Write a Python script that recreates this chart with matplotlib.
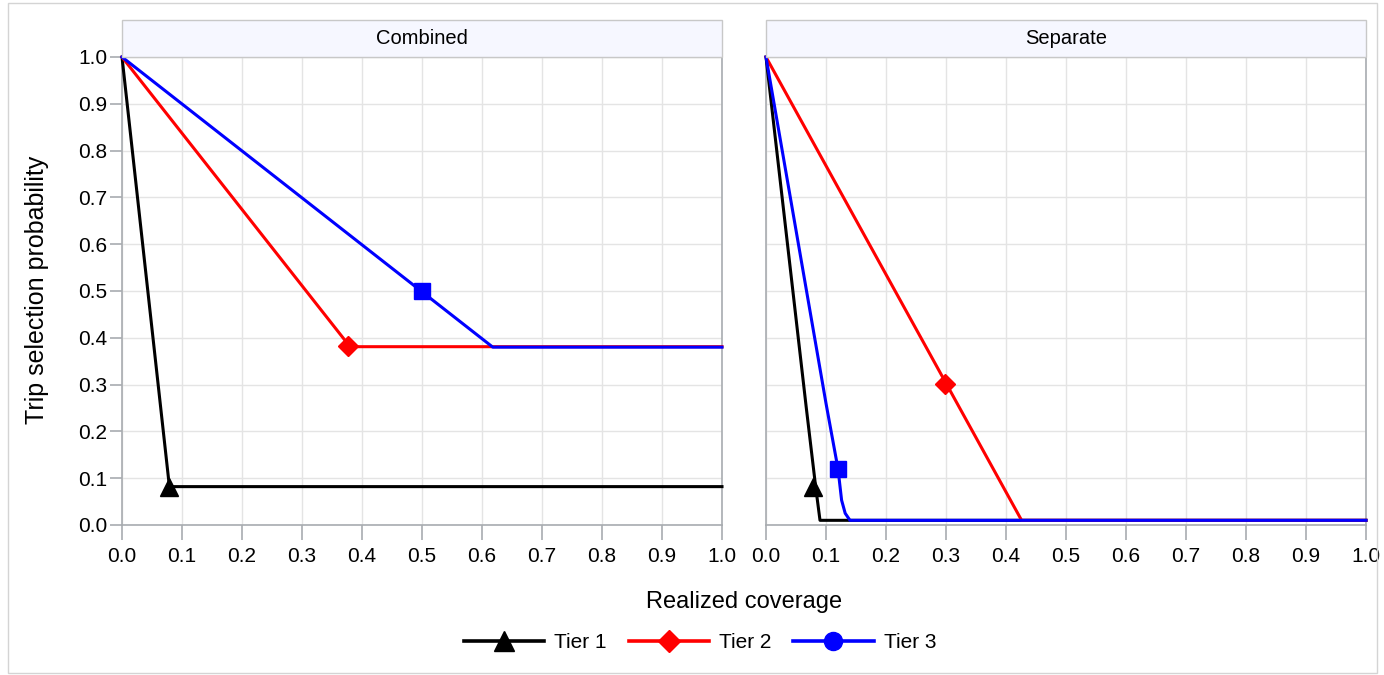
import matplotlib
matplotlib.use('Agg')
import matplotlib.pyplot as plt
from matplotlib.lines import Line2D
from matplotlib.patches import Rectangle
import numpy as np

plt.rcParams['font.family'] = ['Liberation Sans', 'DejaVu Sans']

# Combined panel curves (realized coverage, selection probability)
comb_t1_x = [0.0, 0.079, 1.0]
comb_t1_y = [1.0, 0.082, 0.082]
comb_t2_x = [0.0, 0.38, 1.0]
comb_t2_y = [1.0, 0.381, 0.381]
comb_t3_x = [0.0, 0.618, 1.0]
comb_t3_y = [1.0, 0.38, 0.38]
# marker points
comb_mk_x = [0.078, 0.377, 0.50]
comb_mk_y = [0.081, 0.382, 0.50]

# Separate panel curves
sep_t1_x = [0.0, 0.067, 0.083, 0.09, 1.0]
sep_t1_y = [1.0, 0.252, 0.079, 0.01, 0.01]
sep_t2_x = [0.0, 0.30, 0.426, 1.0]
sep_t2_y = [1.0, 0.303, 0.01, 0.01]
sep_t3_x = [0.0, 0.10, 0.12, 0.126, 0.132, 0.14, 1.0]
sep_t3_y = [1.0, 0.26, 0.12, 0.053, 0.025, 0.01, 0.01]
sep_mk_x = [0.078, 0.298, 0.12]
sep_mk_y = [0.081, 0.301, 0.12]

tiers = ['Tier 1', 'Tier 2', 'Tier 3']
colors = ['black', '#ff0000', '#0000ff']
markers = ['^', 'D', 's']
msizes = [13, 10, 11]

W, H = 1384, 675
fig = plt.figure(figsize=(W / 100, H / 100), dpi=100)

# outer frame
fig.patches.append(Rectangle((8 / W, 1 - 673 / H), 1369 / W, 670 / H,
                             transform=fig.transFigure, fill=False,
                             edgecolor='#d4d4d4', linewidth=1.0))

ax1 = fig.add_axes([122 / W, 1 - 525 / H, 600 / W, 468 / H])
ax2 = fig.add_axes([766 / W, 1 - 525 / H, 600 / W, 468 / H])

panels = [
    (ax1, 'Combined', [(comb_t1_x, comb_t1_y), (comb_t2_x, comb_t2_y), (comb_t3_x, comb_t3_y)], comb_mk_x, comb_mk_y),
    (ax2, 'Separate', [(sep_t1_x, sep_t1_y), (sep_t2_x, sep_t2_y), (sep_t3_x, sep_t3_y)], sep_mk_x, sep_mk_y),
]

for ax, title, curves, mx, my in panels:
    for i, (cx, cy) in enumerate(curves):
        ax.plot(cx, cy, color=colors[i], linewidth=2.2, zorder=3, clip_on=False)
        ax.plot(mx[i], my[i], marker=markers[i], color=colors[i], markersize=msizes[i],
                linestyle='none', zorder=4, clip_on=False)
    ax.set_xlim(0, 1.0)
    ax.set_ylim(0, 1.0)
    ax.set_xticks(np.arange(0, 1.01, 0.1))
    ax.set_yticks(np.arange(0, 1.01, 0.1))
    ax.set_xticklabels(['%.1f' % v for v in np.arange(0, 1.01, 0.1)], fontsize=15)
    ax.grid(True, color='#e4e4e4', linewidth=1.0, zorder=0)
    ax.set_axisbelow(True)
    for s in ax.spines.values():
        s.set_color('#a8acb0')
        s.set_linewidth(1.2)
    ax.tick_params(axis='both', colors='#a8acb0', labelcolor='black', direction='out')
    ax.tick_params(axis='x', length=11, width=1.2, pad=5)
    ax.tick_params(axis='y', length=9, width=1.2, pad=1.5)
    # strip header
    pos = ax.get_position()
    fig.patches.append(Rectangle((pos.x0, 1 - 57 / H), pos.width, 37 / H,
                                 transform=fig.transFigure, facecolor='#f6f7ff',
                                 edgecolor='#c8c8c8', linewidth=1.0))
    fig.text(pos.x0 + pos.width / 2, 1 - 39 / H, title, ha='center', va='center', fontsize=14.5)

ax1.set_yticklabels(['%.1f' % v for v in np.arange(0, 1.01, 0.1)], fontsize=15)
ax2.tick_params(axis='y', length=0, labelleft=False)

fig.text(37 / W, 1 - 290 / H, 'Trip selection probability', ha='center', va='center',
         rotation=90, fontsize=18)
fig.text(744 / W, 1 - 602 / H, 'Realized coverage', ha='center', va='center', fontsize=17)

handles = [Line2D([0], [0], color=colors[0], marker='^', markersize=14, linewidth=2.6),
           Line2D([0], [0], color=colors[1], marker='D', markersize=11, linewidth=2.6),
           Line2D([0], [0], color=colors[2], marker='o', markersize=13, linewidth=2.6)]
fig.legend(handles, tiers, loc='center', bbox_to_anchor=(700 / W, 1 - 643 / H), ncol=3,
           frameon=False, fontsize=15, handlelength=3.85, columnspacing=1.05, handletextpad=0.5)

fig.savefig('out.png', dpi=100)
